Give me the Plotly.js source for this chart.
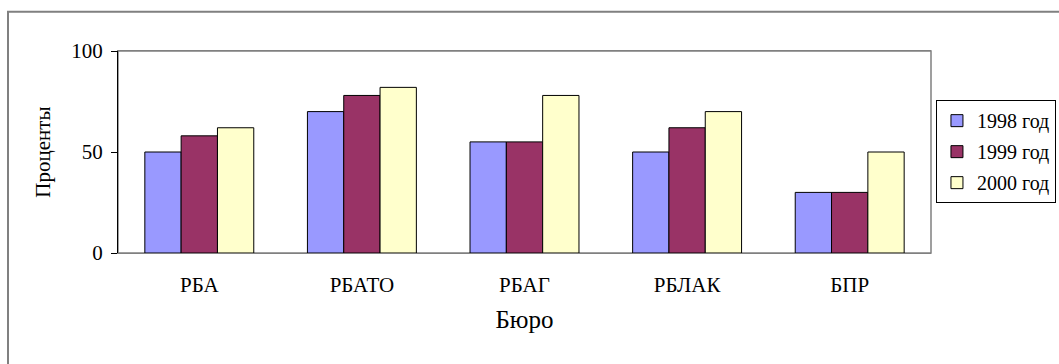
<!DOCTYPE html>
<html><head><meta charset="utf-8">
<script src="https://cdn.plot.ly/plotly-3.0.1.min.js"></script>
<style>html,body{margin:0;padding:0;background:#fff}#chart{width:1059px;height:364px}</style>
</head><body><div id="chart"></div>
<script>
const categories = ['РБА', 'РБАТО', 'РБАГ', 'РБЛАК', 'БПР'];
const seriesNames = ['1998 год', '1999 год', '2000 год'];
const values1998 = [50, 70, 55, 50, 30];
const values1999 = [58, 78, 55, 62, 30];
const values2000 = [62, 82, 78, 70, 50];
const yTickValues = [0, 50, 100];
const xAxisTitle = 'Бюро';
const yAxisTitle = 'Проценты';

const seriesColors = ['#9999FF', '#993366', '#FFFFCC'];
const FONT = 'Liberation Serif, Times New Roman, serif';
const allValues = [values1998, values1999, values2000];

const traces = allValues.map((vals, i) => ({
  type: 'bar',
  name: seriesNames[i],
  x: categories,
  y: vals,
  legendgroup: 'g' + i,
  marker: {color: seriesColors[i], line: {color: '#000000', width: 1}},
  hoverinfo: 'x+y+name'
}));

const layout = {
  width: 1059, height: 364,
  margin: {l: 118, r: 128, t: 51, b: 111, autoexpand: false},
  paper_bgcolor: '#ffffff', plot_bgcolor: '#ffffff',
  font: {family: FONT, size: 21, color: '#000000'},
  barmode: 'group',
  bargap: 0.33,
  bargroupgap: 0,
  showlegend: true,
  legend: {
    x: 1.0061, xanchor: 'left', y: 0.7567, yanchor: 'top',
    bordercolor: '#000000', borderwidth: 1, bgcolor: '#ffffff',
    font: {family: FONT, size: 20, color: '#000000'},
    tracegroupgap: 2, traceorder: 'grouped'
  },
  xaxis: {
    type: 'category',
    showline: true, linecolor: '#808080', linewidth: 1, mirror: true,
    ticks: '', showgrid: false, zeroline: false,
    ticklabelstandoff: 13,
    tickfont: {family: FONT, size: 21, color: '#000000'},
    title: {text: xAxisTitle, font: {family: FONT, size: 25, color: '#000000'}, standoff: 14},
    automargin: false
  },
  yaxis: {
    range: [0, 100], tickvals: yTickValues, ticktext: yTickValues.map(String),
    showline: true, linecolor: '#000000', linewidth: 1,
    ticks: 'outside', ticklen: 6, tickcolor: '#000000', tickwidth: 1,
    showgrid: false, zeroline: false,
    ticklabelstandoff: 4,
    tickfont: {family: FONT, size: 21, color: '#000000'},
    title: {text: yAxisTitle, font: {family: FONT, size: 21, color: '#000000'}, standoff: 14},
    automargin: false
  },
  shapes: [
    {type: 'rect', xref: 'paper', yref: 'paper', x0: 0, x1: 1, y0: 0, y1: 1,
     line: {color: '#808080', width: 1.5}, layer: 'below'},
    {type: 'rect', xref: 'paper', yref: 'paper',
     x0: (8 - 118) / 813, x1: (1062 - 118) / 813, y0: (253 - 368) / 202.6, y1: (253 - 11) / 202.6,
     line: {color: '#808080', width: 2}, layer: 'below'}
  ]
};

Plotly.newPlot('chart', traces, layout, {displayModeBar: false, staticPlot: true});
</script></body></html>
